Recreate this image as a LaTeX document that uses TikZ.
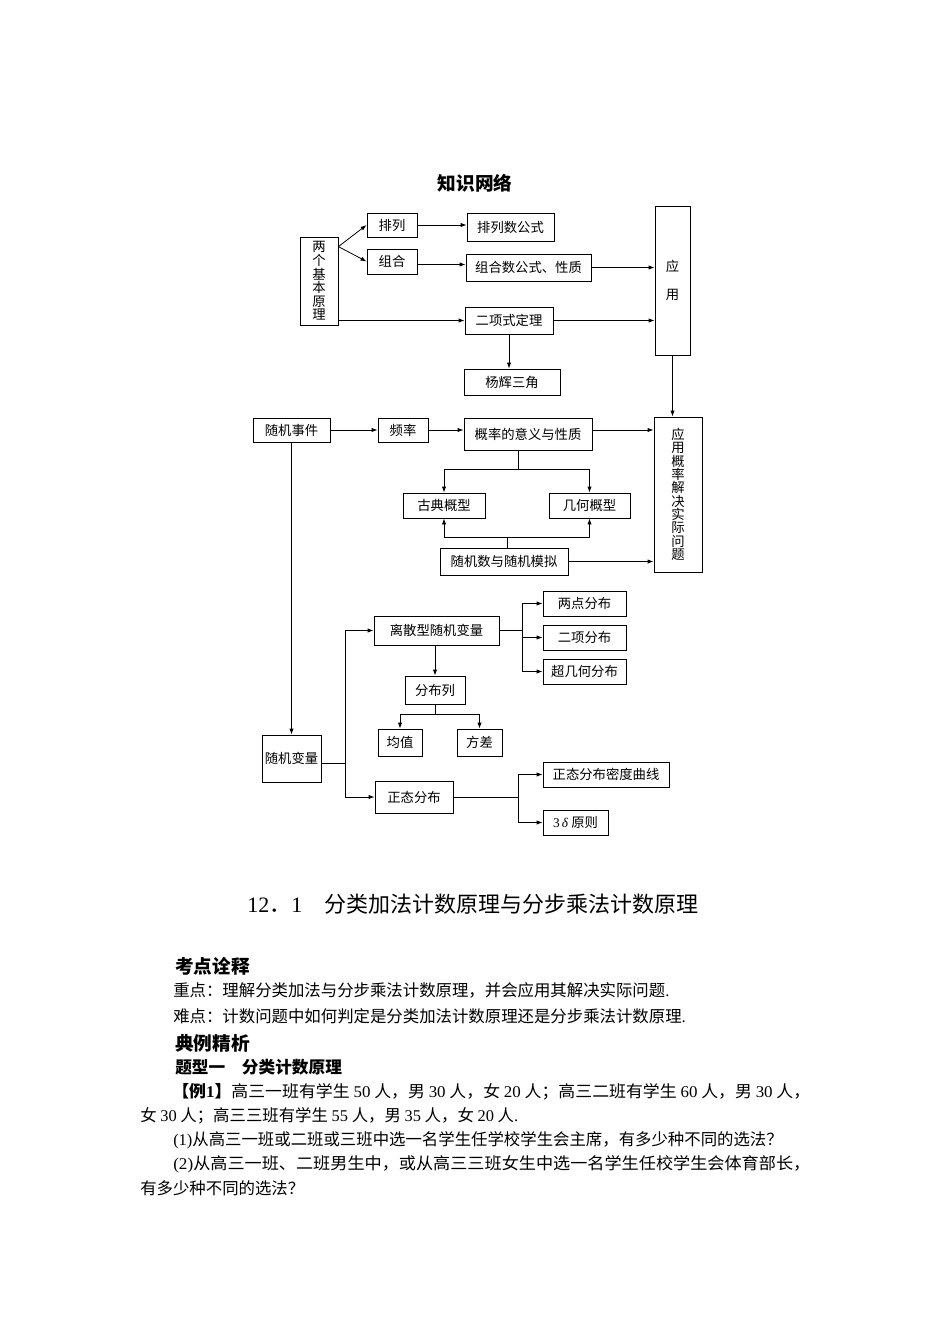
\documentclass[tikz,border=0pt]{standalone}
\usepackage{fontspec}
\usepackage{graphicx}
\setmainfont{Liberation Serif}
\newfontfamily\cjk{Noto Sans CJK SC}
\usetikzlibrary{arrows.meta,calc}
\newcommand\nm[1]{{\rmfamily #1}}
\tikzset{
  box/.style={draw, line width=0.6pt, inner sep=0pt, align=center,
    font=\cjk\fontsize{10}{12}\selectfont},
  bx/.style 2 args={box, minimum width=#1*0.75pt, minimum height=#2*0.75pt},
  arr/.style={-{Latex[length=4.5pt,width=3.2pt]}, line width=0.6pt},
  ln/.style={line width=0.6pt},
  txt/.style={anchor=west, inner sep=0pt, font=\cjk\fontsize{12.3}{14}\selectfont},
  hd/.style={anchor=west, inner sep=0pt, font=\cjk\bfseries\fontsize{14}{16}\selectfont},
}
\begin{document}
\begin{tikzpicture}[x=0.75pt,y=-0.75pt]
\useasboundingbox (0,0) rectangle (950,1344);
\node[font=\cjk\bfseries\fontsize{14}{16}\selectfont] (title) at (475,183) {知识网络};

% counting principles
\node[bx={38}{88}, font=\cjk\fontsize{10}{10.2}\selectfont] (yuanli) at (319,281) {两\\个\\基\\本\\原\\理};
\node[bx={50}{24}] (pailie) at (392,225) {排列};
\node[bx={50}{25}] (zuhe) at (392,261.5) {组合};
\node[bx={87}{28}] (pgs) at (510.5,227) {排列数公式};
\node[bx={125}{27}] (zgs) at (528.5,267.5) {组合数公式、性质};
\node[bx={88}{27}] (erxiang) at (509,320.5) {二项式定理};
\node[bx={96}{26}] (yanghui) at (512,382) {杨辉三角};
\node[bx={35}{149}, font=\cjk\fontsize{10}{21}\selectfont] (yingyong) at (672.5,280.5) {应\\用};

\coordinate (fk) at ($(yuanli.north east)+(0,10)$);
\draw[arr] (fk) -- (pailie.west);
\draw[arr] (fk) -- (zuhe.west);
\draw[arr] (pailie.east) -- (pailie.east -| pgs.west);
\draw[arr] ($(zuhe.east)+(0,3)$) -- ($(zuhe.east -| zgs.west)+(0,3)$);
\draw[arr] (zgs.east) -- (zgs.east -| yingyong.west);
\draw[arr] (yuanli.east |- erxiang.west) -- (erxiang.west);
\draw[arr] (erxiang.east) -- (erxiang.east -| yingyong.west);
\draw[arr] (erxiang.south) -- (erxiang.south |- yanghui.north);

% probability
\node[bx={77}{24}] (suiji) at (291.5,430) {随机事件};
\node[bx={50}{24}] (pinlv) at (403,430) {频率};
\node[bx={128}{32}] (gailv) at (528,434) {概率的意义与性质};
\node[bx={48}{155}, font=\cjk\fontsize{10}{10}\selectfont] (yyg) at (678,494.5) {应\\用\\概\\率\\解\\决\\实\\际\\问\\题};
\node[bx={82}{25}] (gudian) at (444,505.5) {古典概型};
\node[bx={81}{25}] (jihe) at (589.5,505.5) {几何概型};
\node[bx={128}{27}] (moni) at (504,561.5) {随机数与随机模拟};

\draw[arr] (yingyong.south) -- (yingyong.south |- yyg.north);
\draw[arr] (suiji.east) -- (pinlv.west);
\draw[arr] (pinlv.east) -- (pinlv.east -| gailv.west);
\draw[arr] (gailv.east |- pinlv) -- (pinlv -| yyg.west);
\coordinate (gs) at ($(gailv.south)+(-10,0)$);
\coordinate (gj) at ($(gs)+(0,19)$);
\draw[ln] (gs) -- (gj);
\draw[arr] (gudian.north |- gj) -- (jihe.north |- gj) -- (jihe.north);
\draw[arr] (gudian.north |- gj) -- (gudian.north);
\coordinate (ms) at ($(moni.north)+(3,0)$);
\coordinate (mj) at ($(ms)+(0,-10)$);
\draw[ln] (ms) -- (mj);
\draw[arr] (gudian.south |- mj) -- (jihe.south |- mj) -- (jihe.south);
\draw[arr] (gudian.south |- mj) -- (gudian.south);
\draw[arr] (moni.east) -- (moni.east -| yyg.west);

% random variables
\node[bx={59}{47}] (bianliang) at (291.5,758.5) {随机变量};
\node[bx={125}{29}] (lisan) at (436.5,630.5) {离散型随机变量};
\node[bx={83}{25}] (liangdian) at (584.5,603.5) {两点分布};
\node[bx={83}{25}] (erxfb) at (584.5,637.5) {二项分布};
\node[bx={83}{25}] (chao) at (584.5,671.5) {超几何分布};
\node[bx={60}{28}] (fbl) at (435,690) {分布列};
\node[bx={44}{27}] (junzhi) at (400,742.5) {均值};
\node[bx={45}{27}] (fangcha) at (479.5,742.5) {方差};
\node[bx={78}{32}] (zhengtai) at (414,797) {正态分布};
\node[bx={126}{25}] (midu) at (606,774.5) {正态分布密度曲线};
\node[bx={65}{25}] (sanyuan) at (575.5,822.5) {\nm{3\,\textit{δ}} 原则};

\draw[arr] (suiji.south) -- (bianliang.north);
\coordinate (bs) at ($(bianliang.east)+(0,5)$);
\coordinate (bj) at ($(bs)+(24,0)$);
\draw[ln] (bs) -- (bj);
\draw[arr] (bj |- lisan.west) -- (bj |- zhengtai.west) -- (zhengtai.west);
\draw[arr] (bj |- lisan.west) -- (lisan.west);
\coordinate (lj) at ($(lisan.east)+(23,0)$);
\draw[ln] (lisan.east) -- (lj);
\draw[arr] (lj |- liangdian.west) -- (lj |- chao.west) -- (chao.west);
\draw[arr] (lj |- liangdian.west) -- (liangdian.west);
\draw[arr] (lj |- erxfb.west) -- (erxfb.west);
\draw[arr] (lisan.south -| fbl.north) -- (fbl.north);
\coordinate (fj) at ($(fbl.south)+(0,10)$);
\draw[ln] (fbl.south) -- (fj);
\draw[arr] (junzhi.north |- fj) -- (fangcha.north |- fj) -- (fangcha.north);
\draw[arr] (junzhi.north |- fj) -- (junzhi.north);
\coordinate (zj) at ($(zhengtai.east)+(65,0)$);
\draw[ln] (zhengtai.east) -- (zj);
\draw[arr] (zj |- midu.west) -- (zj |- sanyuan.west) -- (sanyuan.west);
\draw[arr] (zj |- midu.west) -- (midu.west);

% text of the page
\node[anchor=west, inner sep=0pt, font=\cjk\fontsize{16.5}{18}\selectfont] (sec) at (247,904) {\nm{12}．\nm{1}　分类加法计数原理与分步乘法计数原理};
\node[hd] (kd) at (175,966) {考点诠释};
\node[txt] (l1) at (173,990) {重点：理解分类加法与分步乘法计数原理，并会应用其解决实际问题\nm{.}};
\node[txt] (l2) at (173,1016) {难点：计数问题中如何判定是分类加法计数原理还是分步乘法计数原理\nm{.}};
\node[hd] (dl) at (175,1043) {典例精析};
\node[hd, font=\cjk\bfseries\fontsize{12.5}{14}\selectfont] (tx) at (175,1067) {题型一　分类计数原理};
\node[txt] (l3) at (172,1092) {\resizebox{478.5pt}{\height}{{\bfseries 【例\nm{1}】}高三一班有学生 \nm{50} 人，男 \nm{30} 人，女 \nm{20} 人；高三二班有学生 \nm{60} 人，男 \nm{30} 人，}};
\node[txt] (l4) at (140,1116) {女 \nm{30} 人；高三三班有学生 \nm{55} 人，男 \nm{35} 人，女 \nm{20} 人\nm{.}};
\node[txt] (l5) at (173,1140) {\nm{(1)}从高三一班或二班或三班中选一名学生任学校学生会主席，有多少种不同的选法？};
\node[txt] (l6) at (173,1164) {\resizebox{477.75pt}{\height}{\nm{(2)}从高三一班、二班男生中，或从高三三班女生中选一名学生任校学生会体育部长，}};
\node[txt] (l7) at (140,1188) {有多少种不同的选法？};
\end{tikzpicture}
\end{document}
